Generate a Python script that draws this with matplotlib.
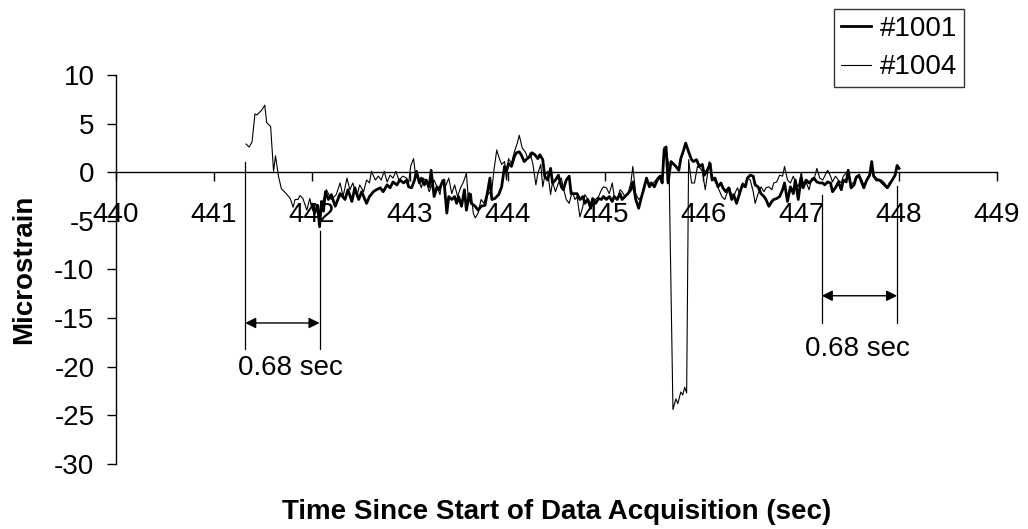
"""Strain records #1001 and #1004 against acquisition time, with the
0.68 s spacing marked at the start and end of the event."""

import matplotlib.pyplot as plt

plt.rcParams["font.family"] = ["Liberation Sans", "DejaVu Sans"]
plt.rcParams["axes.unicode_minus"] = False

# gauge #1004 (thin trace)
t_1004 = [
    441.33, 441.36, 441.39, 441.42, 441.44, 441.47, 441.49, 441.52, 441.54, 441.58,
    441.61, 441.63, 441.66, 441.69, 441.74, 441.78, 441.81, 441.83, 441.86, 441.88,
    441.91, 441.95, 441.98, 442.01, 442.04, 442.08, 442.12, 442.15, 442.20, 442.25,
    442.29, 442.32, 442.36, 442.39, 442.42, 442.46, 442.49, 442.53, 442.56, 442.59,
    442.61, 442.65, 442.68, 442.71, 442.74, 442.77, 442.80, 442.83, 442.86, 442.89,
    442.93, 442.97, 442.99, 443.01, 443.04, 443.06, 443.09, 443.12, 443.14, 443.17,
    443.20, 443.22, 443.25, 443.28, 443.31, 443.33, 443.36, 443.40, 443.43, 443.46,
    443.49, 443.52, 443.55, 443.58, 443.60, 443.63, 443.65, 443.67, 443.70, 443.73,
    443.76, 443.78, 443.81, 443.84, 443.86, 443.89, 443.91, 443.94, 443.97, 443.99,
    444.01, 444.04, 444.07, 444.10, 444.12, 444.15, 444.18, 444.21, 444.23, 444.26,
    444.29, 444.31, 444.34, 444.36, 444.38, 444.41, 444.44, 444.46, 444.49, 444.52,
    444.55, 444.57, 444.60, 444.63, 444.66, 444.69, 444.71, 444.74, 444.77, 444.79,
    444.82, 444.85, 444.87, 444.90, 444.93, 444.96, 444.98, 445.01, 445.04, 445.07,
    445.09, 445.12, 445.15, 445.17, 445.20, 445.23, 445.26, 445.28, 445.31, 445.34,
    445.37, 445.39, 445.42, 445.45, 445.47, 445.50, 445.53, 445.56, 445.58, 445.60,
    445.62, 445.65, 445.69, 445.72, 445.74, 445.77, 445.79, 445.81, 445.83, 445.85,
    445.88, 445.91, 445.94, 445.97, 445.99, 446.02, 446.04, 446.06, 446.08, 446.11,
    446.14, 446.16, 446.19, 446.22, 446.24, 446.27, 446.30, 446.33, 446.35, 446.37,
    446.40, 446.43, 446.45, 446.48, 446.51, 446.53, 446.56, 446.59, 446.62, 446.64,
    446.67, 446.70, 446.72, 446.75, 446.78, 446.81, 446.83, 446.86, 446.89, 446.92,
    446.94, 446.97, 447.00, 447.02, 447.05, 447.08, 447.11, 447.13, 447.16, 447.19,
    447.22, 447.24, 447.27, 447.30, 447.32, 447.35, 447.38, 447.41, 447.43, 447.46,
    447.48, 447.51, 447.54, 447.56, 447.59, 447.62, 447.64, 447.67, 447.70, 447.72,
    447.74, 447.77, 447.80, 447.82, 447.85, 447.88, 447.90, 447.93, 447.96, 447.98,
    448.00,
]
s_1004 = [
    2.9, 2.6, 3.1, 6.0, 5.9, 6.2, 6.4, 6.9, 5.1, 4.7,
    0.1, 1.7, -0.4, -1.7, -2.2, -2.7, -3.6, -2.8, -2.8, -2.4,
    -2.7, -3.9, -2.7, -3.9, -3.2, -4.2, -2.8, -1.8, -2.8, -2.3,
    -1.1, -2.5, -0.6, -1.8, -1.1, -2.5, -1.3, -2.0, -0.8, -1.1,
    0.1, -0.8, -0.4, -0.8, 0.1, -1.0, -0.3, -0.6, 0.1, -0.8,
    -0.4, -0.6, -1.1, 0.6, 1.4, -0.3, -0.8, -1.6, -0.6, -1.0,
    -2.0, -1.5, -0.8, -1.5, -2.3, -0.8, -1.6, -0.6, -2.2, -1.3,
    -2.5, -1.6, -1.0, -0.1, -2.8, -2.2, -4.2, -4.7, -4.2, -2.8,
    -3.2, -2.5, -2.2, -1.8, 0.1, 2.3, 1.6, 0.8, 1.1, -0.8,
    1.4, 0.9, 2.1, 3.0, 3.8, 2.5, 2.1, 1.4, 2.0, 0.8,
    -1.3, -0.1, 0.8, -1.5, -0.4, 0.1, -2.3, -1.0, -2.0, -1.1,
    -0.6, -1.6, -2.8, -3.2, -2.0, -2.8, -2.5, -4.6, -3.5, -2.3,
    -2.8, -3.2, -2.7, -2.8, -2.5, -1.8, -1.5, -1.6, -2.2, -1.1,
    -2.5, -2.8, -1.8, -2.0, -2.5, -2.2, -1.1, 0.6, -2.2, -2.8,
    -2.5, -1.5, -0.8, -1.1, -1.3, -1.0, -0.6, -0.3, -0.8, 2.6,
    2.3, 0.6, -24.4, -23.3, -23.8, -22.6, -22.9, -22.1, -22.7, 1.3,
    -1.1, -1.1, 0.6, 0.4, 0.1, -1.8, -0.4, 1.1, -0.1, -0.8,
    -1.3, -1.8, -2.5, -2.8, -2.2, -1.6, -2.8, -2.0, -1.6, -2.2,
    -1.1, -1.3, -0.6, -0.8, -2.0, -3.2, -2.2, -1.5, -2.0, -1.6,
    -1.5, -1.8, -1.1, -1.0, -0.3, -0.4, 0.6, -0.8, -1.1, -0.4,
    -1.0, -1.5, -0.1, -1.1, -1.0, -1.8, -0.6, -0.8, 0.4, -0.6,
    -0.8, -0.4, 0.2, -0.4, -1.0, -0.4, -0.8, -1.1, -0.4, -0.1,
    0.1, -1.3, -1.0, -0.4, -0.3, -0.8, -1.3, -0.8, -0.1, 0.9,
    -0.3, -0.6, -0.8, -0.8, -1.1, -1.5, -1.1, -0.8, -0.3, 0.6,
    0.4,
]

# gauge #1001 (heavy trace)
t_1001 = [
    442.00, 442.03, 442.06, 442.08, 442.10, 442.12, 442.14, 442.17, 442.20, 442.24,
    442.29, 442.34, 442.37, 442.41, 442.44, 442.48, 442.51, 442.56, 442.59, 442.63,
    442.66, 442.70, 442.73, 442.77, 442.80, 442.83, 442.87, 442.90, 442.94, 442.97,
    442.99, 443.02, 443.05, 443.07, 443.10, 443.12, 443.15, 443.17, 443.20, 443.22,
    443.25, 443.28, 443.30, 443.33, 443.35, 443.38, 443.40, 443.43, 443.46, 443.48,
    443.50, 443.53, 443.56, 443.58, 443.61, 443.63, 443.67, 443.70, 443.73, 443.77,
    443.80, 443.82, 443.84, 443.87, 443.91, 443.94, 443.97, 443.99, 444.01, 444.04,
    444.07, 444.09, 444.12, 444.14, 444.17, 444.20, 444.23, 444.25, 444.28, 444.31,
    444.33, 444.36, 444.38, 444.41, 444.44, 444.46, 444.49, 444.52, 444.55, 444.57,
    444.60, 444.63, 444.65, 444.71, 444.74, 444.77, 444.79, 444.82, 444.85, 444.87,
    444.90, 444.93, 444.96, 444.98, 445.01, 445.04, 445.07, 445.09, 445.12, 445.15,
    445.17, 445.20, 445.23, 445.26, 445.28, 445.31, 445.34, 445.37, 445.39, 445.42,
    445.45, 445.47, 445.50, 445.53, 445.56, 445.58, 445.60, 445.62, 445.64, 445.67,
    445.69, 445.72, 445.75, 445.77, 445.80, 445.82, 445.85, 445.88, 445.90, 445.93,
    445.96, 445.99, 446.01, 446.04, 446.07, 446.09, 446.12, 446.15, 446.18, 446.20,
    446.23, 446.26, 446.29, 446.31, 446.34, 446.37, 446.40, 446.43, 446.45, 446.48,
    446.51, 446.53, 446.56, 446.59, 446.62, 446.64, 446.67, 446.70, 446.72, 446.75,
    446.78, 446.81, 446.83, 446.86, 446.89, 446.92, 446.94, 446.97, 447.00, 447.02,
    447.05, 447.08, 447.11, 447.13, 447.16, 447.19, 447.22, 447.24, 447.27, 447.30,
    447.32, 447.35, 447.38, 447.41, 447.43, 447.46, 447.48, 447.51, 447.54, 447.56,
    447.59, 447.62, 447.64, 447.67, 447.70, 447.72, 447.74, 447.77, 447.80, 447.82,
    447.85, 447.88, 447.90, 447.93, 447.96, 447.98, 448.00,
]
s_1001 = [
    -3.3, -4.2, -3.4, -5.6, -3.0, -4.0, -2.0, -2.8, -2.3, -3.5,
    -2.2, -2.8, -1.8, -3.0, -1.6, -2.8, -2.0, -3.2, -2.5, -2.0,
    -1.8, -1.6, -2.0, -1.3, -1.6, -1.0, -1.3, -0.8, -1.1, -0.8,
    -1.5, -1.6, -0.8, 0.1, -1.1, -0.6, -1.3, -0.8, -1.5, 0.2,
    -2.5, -1.5, -1.8, -1.1, -0.8, -4.2, -2.5, -2.8, -2.5, -3.2,
    -2.5, -3.5, -1.8, -3.9, -2.2, -3.2, -3.5, -3.9, -3.5, -3.4,
    -1.8, -0.6, -2.8, -2.7, -2.3, -1.5, 0.6, 0.1, 0.9, 0.6,
    1.6, 2.0, 2.1, 1.8, 1.1, 1.4, 1.6, 2.0, 1.8, 1.4,
    1.8, 1.3, -0.4, -0.8, 0.4, -1.1, -0.8, -0.3, -1.5, -1.8,
    -0.8, -0.4, -2.2, -2.2, -2.8, -2.5, -3.2, -2.8, -3.7, -2.7,
    -3.2, -2.7, -2.8, -2.5, -2.8, -2.5, -3.0, -2.5, -2.8, -2.2,
    -2.8, -2.5, -2.2, -1.8, -1.0, -2.8, -3.7, -2.5, -1.8, -0.6,
    -1.5, -1.1, -1.5, -0.8, -0.4, -1.1, 2.3, 2.6, -1.1, 1.1,
    0.9, 0.6, 0.2, 1.4, 2.3, 3.0, 2.1, 1.3, 1.1, 1.3,
    0.6, 0.8, -0.3, 0.2, 0.9, -0.8, -0.6, -1.5, -1.1, -1.6,
    -2.0, -1.6, -2.8, -2.3, -3.2, -2.2, -1.3, -1.5, -0.6, -0.3,
    -0.4, -1.3, -1.5, -2.2, -2.5, -2.8, -3.5, -3.0, -2.8, -2.7,
    -2.5, -1.8, -1.1, -3.0, -1.5, -2.2, -0.8, -2.8, -0.6, -1.6,
    -0.8, -1.1, -0.8, -0.6, -1.0, -1.1, -1.1, -1.3, -1.0, -1.1,
    -2.0, -1.6, -1.0, -1.8, -0.8, -1.0, 0.2, -1.6, -1.3, -0.6,
    -0.3, -1.1, -1.6, -0.8, -0.3, 1.1, -0.4, -0.8, -0.8, -1.0,
    -1.3, -1.6, -1.3, -0.8, -0.3, 0.7, 0.4,
]

# 0.68 s interval markers: (x of left line, x of right line)
mark_x = [(441.32, 442.08), (447.21, 447.98)]
mark_top = [(1.1, -6.0), (-2.3, -1.4)]
mark_bottom = [-18.2, -15.5]
arrow_y = [-15.5, -12.7]
mark_text = ["0.68 sec", "0.68 sec"]
text_xy = [(441.78, -20.1), (447.57, -18.2)]

fig = plt.figure(figsize=(10.28, 5.29), dpi=100)
ax = fig.add_axes([0.1128, 0.1229, 0.857, 0.7353])

ax.plot(t_1001, s_1001, color="black", lw=2.0, label="#1001")
ax.plot(t_1004, s_1004, color="black", lw=0.8, label="#1004")

for (xl, xr), (tl, tr), yb, ya, txt, (tx, ty) in zip(
    mark_x, mark_top, mark_bottom, arrow_y, mark_text, text_xy
):
    ax.plot([xl, xl], [tl, yb], color="black", lw=0.9)
    ax.plot([xr, xr], [tr, yb], color="black", lw=0.9)
    ax.annotate(
        "", xy=(xr, ya), xytext=(xl, ya),
        arrowprops=dict(arrowstyle="<|-|>", color="black", lw=1.0,
                        mutation_scale=16, shrinkA=0, shrinkB=0),
    )
    ax.text(tx, ty, txt, ha="center", va="center", fontsize=20)

ax.set_xlim(440, 449)
ax.set_ylim(-30, 10)
ax.set_xticks(range(440, 450))
ax.set_yticks(range(-30, 11, 5))

ax.spines["top"].set_visible(False)
ax.spines["right"].set_visible(False)
ax.spines["bottom"].set_position(("data", 0))
for sp in ("left", "bottom"):
    ax.spines[sp].set_linewidth(1.0)

ax.tick_params(axis="x", direction="out", length=6.5, width=1.0,
               labelsize=20, pad=15)
ax.tick_params(axis="y", direction="out", length=6.5, width=1.0,
               labelsize=20, pad=9)

ax.set_xlabel("Time Since Start of Data Acquisition (sec)",
              fontsize=20, fontweight="bold")
ax.set_ylabel("Microstrain", fontsize=20, fontweight="bold")
ax.xaxis.set_label_coords(0.5, -0.09)
ax.yaxis.set_label_coords(-0.09, 0.5)

leg = fig.legend(loc="upper left", bbox_to_anchor=(0.811, 0.983),
                 fontsize=20, frameon=True, fancybox=False,
                 handlelength=1.1, handletextpad=0.3, labelspacing=0.45,
                 borderpad=0.25, borderaxespad=0)
leg.get_frame().set_edgecolor("black")
leg.get_frame().set_linewidth(1.0)

fig.savefig("out.png", dpi=100, facecolor="white")
